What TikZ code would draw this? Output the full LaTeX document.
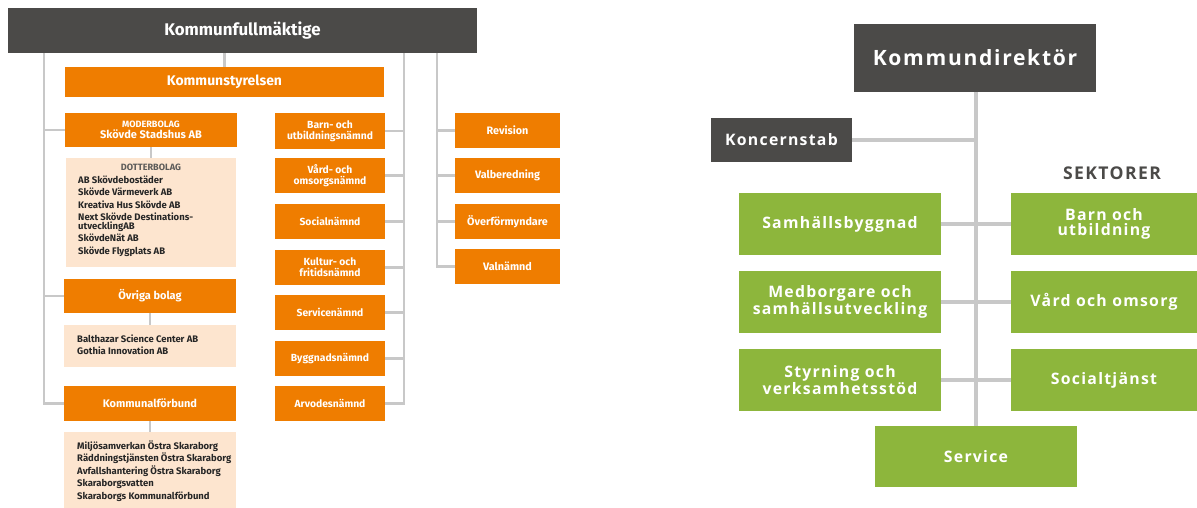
\documentclass[tikz,border=0pt]{standalone}
\usepackage{fontspec}
\setmainfont{Fira Sans}
\newfontfamily\dirfont[LetterSpace=8]{Open Sans}
\usepackage{tikz}

\definecolor{kgray}{HTML}{4B4A48}
\definecolor{korange}{HTML}{EF7D00}
\definecolor{kpeach}{HTML}{FDE5CF}
\definecolor{kgreen}{HTML}{8DB63C}
\definecolor{kline}{HTML}{C8C8C8}
\definecolor{ktext}{HTML}{262626}

\tikzset{
  box/.style={inner sep=0pt, align=center, text=white, font=\bfseries},
  topbox/.style={box, fill=kgray, minimum width=14.07cm, minimum height=1.35cm, font=\bfseries\fontsize{14.4}{16}\selectfont},
  orangebox/.style={box, fill=korange},
  namnd/.style={orangebox, minimum width=3.3cm, minimum height=1.05cm, font=\bfseries\fontsize{8.8}{9.4}\selectfont},
  revbox/.style={orangebox, minimum width=3.15cm, minimum height=1.05cm, font=\bfseries\fontsize{9.2}{9.4}\selectfont},
  bolag/.style={orangebox, minimum width=5.16cm, minimum height=1.02cm, font=\bfseries\fontsize{9.4}{9.6}\selectfont},
  listbox/.style={fill=kpeach, inner sep=0pt, minimum width=5.16cm},
  listtext/.style={inner sep=0pt, anchor=west, align=left, text=ktext, font=\bfseries\fontsize{8.1}{10.6}\selectfont},
  smallcap/.style={font=\bfseries\fontsize{7.8}{8}\selectfont},
  darkbox/.style={box, fill=kgray, font=\dirfont\bfseries\fontsize{13.5}{14}\selectfont},
  sektor/.style={box, fill=kgreen, minimum width=6.06cm, minimum height=1.86cm, font=\dirfont\bfseries\fontsize{13.5}{12.9}\selectfont},
  sektorR/.style={sektor, minimum width=5.58cm},
  conn/.style={draw=kline, line width=2pt},
  connR/.style={draw=kline, line width=2.6pt}
}

\begin{document}
\begin{tikzpicture}[x=0.03cm,y=-0.03cm]
  \useasboundingbox (0,0) rectangle (1197,508);

  %% fullmaktige side
  \node[topbox] (kf) at (242.5,30.5) {Kommunfullmäktige};
  \node[orangebox, minimum width=9.57cm, minimum height=0.9cm, font=\bfseries\fontsize{11.9}{13}\selectfont] (kstyr) at (224.5,82) {Kommunstyrelsen};

  \node[bolag] (moder) at (151,130) {{\fontsize{7.8}{9}\selectfont MODERBOLAG}\\Skövde Stadshus AB};
  \node[listbox, minimum width=5.1cm, minimum height=3.27cm] (dotter) at (151,212.5) {};
  \node[inner sep=0pt, text=kgray!90, smallcap] (dotterhead) at (151,167) {DOTTERBOLAG};
  \node[listtext, anchor=north west] (dotterlist) at (78,175.5) {AB Skövdebostäder\\Skövde Värmeverk AB\\Kreativa Hus Skövde AB\\Next Skövde Destinations-\\[-3.2pt]utvecklingAB\\SkövdeNät AB\\Skövde Flygplats AB};

  \node[bolag] (ovriga) at (150,296) {Övriga bolag};
  \node[listbox, minimum height=1.26cm] (balt) at (150,346) {};
  \node[listtext] (baltlist) at (77,345) {Balthazar Science Center AB\\Gothia Innovation AB};

  \node[bolag, minimum height=1.05cm] (kommunal) at (150,403.5) {Kommunalförbund};
  \node[listbox, minimum height=2.28cm] (miljo) at (150,470) {};
  \node[listtext] (miljolist) at (77,471) {Miljösamverkan Östra Skaraborg\\Räddningstjänsten Östra Skaraborg\\Avfallshantering Östra Skaraborg\\Skaraborgsvatten\\Skaraborgs Kommunalförbund};

  \node[namnd] (barn) at (330,131) {Barn- och\\utbildningsnämnd};
  \node[namnd] (vard) at (330,175.5) {Vård- och\\omsorgsnämnd};
  \node[namnd] (social) at (330,221.5) {Socialnämnd};
  \node[namnd] (kultur) at (330,267.5) {Kultur- och\\fritidsnämnd};
  \node[namnd] (servn) at (330,312.5) {Servicenämnd};
  \node[namnd] (bygg) at (330,358.5) {Byggnadsnämnd};
  \node[namnd] (arvode) at (330,403.5) {Arvodesnämnd};

  \node[revbox] (revision) at (507.5,130.5) {Revision};
  \node[revbox] (valber) at (507.5,175.5) {Valberedning};
  \node[revbox] (overf) at (507.5,221.5) {Överförmyndare};
  \node[revbox] (valn) at (507.5,266.5) {Valnämnd};

  \coordinate (ltrunk) at (44,0);
  \coordinate (ntrunk) at (404,0);
  \coordinate (rtrunk) at (437,0);

  %% lines
  \draw[conn] (kstyr.north |- kf.south) -- (kstyr.north);
  \draw[conn] (kf.south -| ltrunk) |- (kommunal.west);
  \draw[conn] (moder.west) -- (moder.west -| ltrunk);
  \draw[conn] (ovriga.west) -- (ovriga.west -| ltrunk);
  \draw[conn] (moder.south) -- (dotter.north);
  \draw[conn] (ovriga.south) -- (balt.north);
  \draw[conn] (kommunal.south) -- (miljo.north);
  \draw[conn] (kf.south -| ntrunk) |- (arvode.east);
  \foreach \n in {barn,vard,social,kultur,servn,bygg}
    \draw[conn] (\n.east) -- (\n.east -| ntrunk);
  \draw[conn] (kf.south -| rtrunk) |- (valn.west);
  \foreach \n in {revision,valber,overf}
    \draw[conn] (\n.west) -- (\n.west -| rtrunk);

  %% direktor side
  \node[darkbox, minimum width=7.26cm, minimum height=2.04cm, font=\dirfont\bfseries\fontsize{18}{19}\selectfont] (kdir) at (975,58) {Kommundirektör};
  \node[darkbox, minimum width=4.23cm, minimum height=1.32cm] (kstab) at (781.5,140) {Koncernstab};
  \node[inner sep=0pt, text=kgray, font=\dirfont\bfseries\fontsize{15}{16}\selectfont] (sektorer) at (1112,173) {SEKTORER};

  \node[sektor] (samh) at (840,224) {Samhällsbyggnad};
  \node[sektor] (medb) at (840,302) {Medborgare och\\samhällsutveckling};
  \node[sektor] (styr) at (840,380) {Styrning och\\verksamhetsstöd};
  \node[sektorR] (barnutb) at (1104,224) {Barn och\\utbildning};
  \node[sektorR] (vardo) at (1104,302) {Vård och omsorg};
  \node[sektorR] (socialt) at (1104,380) {Socialtjänst};
  \node[sektor, minimum height=1.83cm] (service) at (976,456.5) {Service};

  \draw[connR] (kdir.south -| service.north) -- (service.north);
  \draw[connR] (kstab.east) -- (kstab.east -| service.north);
  \draw[connR] (samh.east) -- (barnutb.west);
  \draw[connR] (medb.east) -- (vardo.west);
  \draw[connR] (styr.east) -- (socialt.west);
\end{tikzpicture}
\end{document}
